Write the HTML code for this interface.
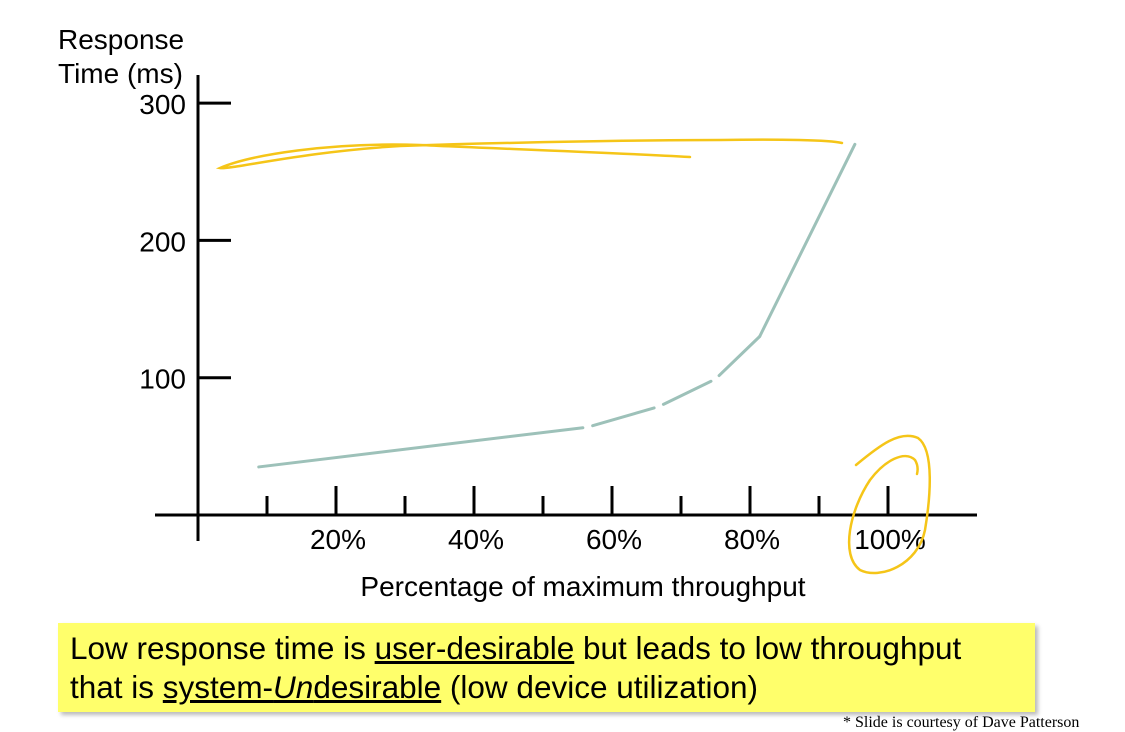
<!DOCTYPE html>
<html><head><meta charset="utf-8">
<style>
html,body{margin:0;padding:0;background:#fff;}
body{width:1125px;height:732px;position:relative;overflow:hidden;font-family:"Liberation Sans",Arial,sans-serif;}
svg{position:absolute;left:0;top:0;}
.note{position:absolute;left:58px;top:623px;width:977px;height:89px;background:#ffff6b;box-shadow:3px 3px 4px #bbb;box-sizing:border-box;padding:6px 0 0 12px;font-size:31.5px;line-height:39px;color:#000;}
.foot{position:absolute;left:843px;top:714px;font-family:"Liberation Serif",serif;font-size:16px;color:#000;}
</style></head><body>
<svg id="chart" width="1125" height="732" viewBox="0 0 1125 732"></svg>
<div class="note">Low response time is <u>user-desirable</u> but leads to low throughput<br>that is <u>system-<i>Un</i>desirable</u> (low device utilization)</div>
<div class="foot">* Slide is courtesy of Dave Patterson</div>
<script>
const yTicks = [100, 200, 300];
const xTicks = [10, 20, 30, 40, 50, 60, 70, 80, 90, 100];
const xLabels = ["", "20%", "", "40%", "", "60%", "", "80%", "", "100%"];
const throughput = [8.8, 56.5, 66.8, 75, 81.4, 95.2];
const respTime = [35, 64, 79, 99, 130, 270];

const NS = "http://www.w3.org/2000/svg";
const svg = document.getElementById('chart');
const X = p => 198 + p * 6.9;
const Y = v => 515 - v * 1.373;
function mk(tag, attrs, parent) {
  const e = document.createElementNS(NS, tag);
  for (const k in attrs) e.setAttribute(k, attrs[k]);
  (parent || svg).appendChild(e);
  return e;
}
const ya = mk('line', {x1:198, y1:75, x2:198, y2:541, stroke:'#000', 'stroke-width':3});


const xa = mk('line', {x1:155, y1:515, x2:977, y2:515, stroke:'#000', 'stroke-width':3});


yTicks.forEach(v => {
  const t = mk('line', {x1:198, y1:Y(v), x2:231, y2:Y(v), stroke:'#000', 'stroke-width':3});
  
  
  const l = mk('text', {x:186, y:Y(v)+11, 'text-anchor':'end', 'font-size':28, fill:'#000'});
  l.textContent = v;
  
  
});
xTicks.forEach((p, i) => {
  const big = i % 2 === 1;
  const t = mk('line', {x1:X(p), y1:big?486:496, x2:X(p), y2:515, stroke:'#000', 'stroke-width':3});
  
  
  if (xLabels[i]) {
    const l = mk('text', {x:X(p)+2, y:549, 'text-anchor':'middle', 'font-size':28, fill:'#000'});
    l.textContent = xLabels[i];
    
    
  }
});
const t1 = mk('text', {x:58, y:49, 'font-size':28, fill:'#000'});
t1.textContent = 'Response';


const t2 = mk('text', {x:58, y:83, 'font-size':28, fill:'#000'});
t2.textContent = 'Time (ms)';


const xt = mk('text', {x:583, y:596, 'text-anchor':'middle', 'font-size':28, fill:'#000'});
xt.textContent = 'Percentage of maximum throughput';


for (let i = 0; i < throughput.length - 1; i++) {
  let x1 = X(throughput[i]), y1 = Y(respTime[i]), x2 = X(throughput[i+1]), y2 = Y(respTime[i+1]);
  const dx = x2 - x1, dy = y2 - y1, len = Math.hypot(dx, dy);
  const g1 = i > 0 && i < 4 ? 5 : 0, g2 = i < 3 ? 5 : 0;
  const s = mk('line', {x1:x1+dx*g1/len, y1:y1+dy*g1/len, x2:x2-dx*g2/len, y2:y2-dy*g2/len, stroke:'#9dc1b9', 'stroke-width':3, 'stroke-linecap':'round'});
  
  
}
const a1 = mk('path', {d:'M690,157 C600,152 480,148 420,145 C330,142 250,155 220,168 C230,170 300,152 400,146 C520,142 650,140 720,140 C780,139 830,140 842,143', fill:'none', stroke:'#f5c518', 'stroke-width':2.5, 'stroke-linecap':'round'});


const a2 = mk('path', {d:'M856,465 C880,445 900,430 918,438 C935,450 930,500 925,530 C918,565 880,580 860,570 C840,555 850,510 870,480 C885,460 905,450 915,460 C918,465 918,470 917,474', fill:'none', stroke:'#f5c518', 'stroke-width':2.5, 'stroke-linecap':'round'});


</script>
</body></html>
